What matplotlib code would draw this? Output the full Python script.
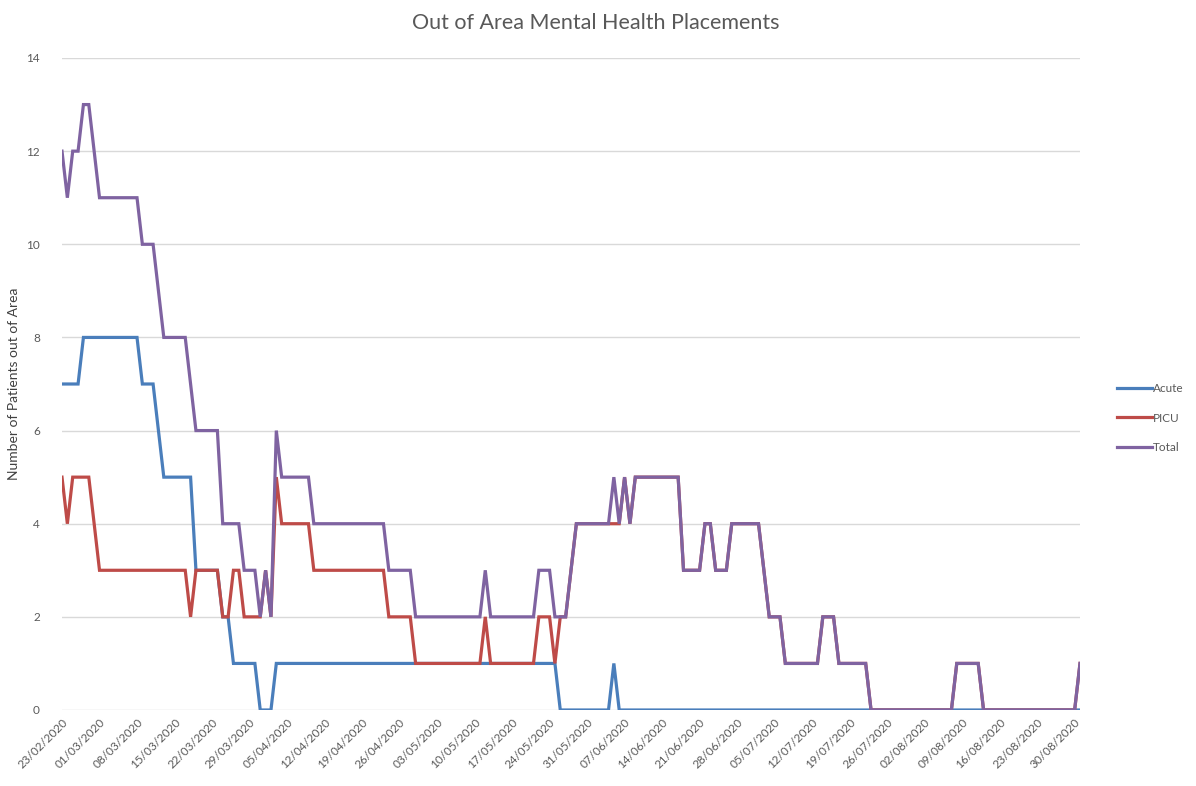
import matplotlib
matplotlib.use("Agg")
import matplotlib.pyplot as plt
import matplotlib.dates as mdates
import pandas as pd

plt.rcParams['font.family'] = ['Lato', 'DejaVu Sans']

start_date = "2020-02-23"
n_days = 191
tick_start = "2020-02-23"
tick_end = "2020-08-30"

acute = [7, 7, 7, 7,
         8, 8, 8, 8, 8, 8, 8, 8, 8, 8, 8,
         7, 7, 7,
         6,
         5, 5, 5, 5, 5, 5,
         3, 3, 3, 3, 3,
         2, 2,
         1, 1, 1, 1, 1,
         0, 0, 0,
         1, 1, 1, 1, 1, 1, 1, 1, 1, 1, 1, 1, 1, 1, 1, 1, 1, 1, 1, 1, 1, 1, 1, 1, 1, 1,
         1, 1, 1, 1, 1, 1, 1, 1, 1, 1, 1, 1, 1, 1, 1, 1, 1, 1, 1, 1, 1, 1, 1, 1, 1, 1, 1,
         0, 0, 0, 0, 0, 0, 0, 0, 0, 0,
         1,
         0, 0, 0, 0, 0, 0, 0, 0, 0, 0, 0, 0, 0, 0, 0, 0, 0, 0, 0, 0, 0, 0, 0, 0, 0, 0, 0, 0, 0, 0,
         0, 0, 0, 0, 0, 0, 0, 0, 0, 0, 0, 0, 0, 0, 0, 0, 0, 0, 0, 0, 0, 0, 0, 0, 0, 0, 0, 0, 0, 0,
         0, 0, 0, 0, 0, 0, 0, 0, 0, 0, 0, 0, 0, 0, 0, 0, 0, 0, 0, 0, 0, 0, 0, 0, 0, 0, 0]

picu = [5, 4, 5, 5, 5, 5, 4,
        3, 3, 3, 3, 3, 3, 3, 3, 3, 3, 3, 3, 3, 3, 3, 3, 3,
        2,
        3, 3, 3, 3, 3,
        2, 2, 3, 3, 2, 2, 2, 2, 3, 2,
        5,
        4, 4, 4, 4, 4, 4,
        3, 3, 3, 3, 3, 3, 3, 3, 3, 3, 3, 3, 3, 3,
        2, 2, 2, 2, 2,
        1, 1, 1, 1, 1, 1, 1, 1, 1, 1, 1, 1, 1,
        2,
        1, 1, 1, 1, 1, 1, 1, 1, 1,
        2, 2, 2, 1, 2, 2, 3,
        4, 4, 4, 4, 4, 4, 4, 4,
        4, 5, 4,
        5, 5, 5, 5, 5, 5, 5, 5, 5,
        3, 3, 3, 3,
        4, 4,
        3, 3, 3,
        4, 4, 4, 4, 4, 4,
        3,
        2, 2, 2,
        1, 1, 1, 1, 1, 1, 1,
        2, 2, 2,
        1, 1, 1, 1, 1, 1,
        0, 0, 0, 0, 0, 0, 0, 0, 0, 0, 0, 0, 0, 0, 0, 0,
        1, 1, 1, 1, 1,
        0, 0, 0, 0, 0, 0, 0, 0, 0, 0, 0, 0, 0, 0, 0, 0, 0, 0,
        1]

total = [12, 11, 12, 12, 13, 13, 12,
         11, 11, 11, 11, 11, 11, 11, 11,
         10, 10, 10,
         9,
         8, 8, 8, 8, 8,
         7,
         6, 6, 6, 6, 6,
         4, 4, 4, 4,
         3, 3, 3, 2, 3, 2,
         6,
         5, 5, 5, 5, 5, 5,
         4, 4, 4, 4, 4, 4, 4, 4, 4, 4, 4, 4, 4, 4,
         3, 3, 3, 3, 3,
         2, 2, 2, 2, 2, 2, 2, 2, 2, 2, 2, 2, 2,
         3,
         2, 2, 2, 2, 2, 2, 2, 2, 2,
         3, 3, 3, 2, 2, 2, 3,
         4, 4, 4, 4, 4, 4, 4,
         5, 4, 5, 4,
         5, 5, 5, 5, 5, 5, 5, 5, 5,
         3, 3, 3, 3,
         4, 4,
         3, 3, 3,
         4, 4, 4, 4, 4, 4,
         3,
         2, 2, 2,
         1, 1, 1, 1, 1, 1, 1,
         2, 2, 2,
         1, 1, 1, 1, 1, 1,
         0, 0, 0, 0, 0, 0, 0, 0, 0, 0, 0, 0, 0, 0, 0, 0,
         1, 1, 1, 1, 1,
         0, 0, 0, 0, 0, 0, 0, 0, 0, 0, 0, 0, 0, 0, 0, 0, 0, 0,
         1]

series_names = ["Acute", "PICU", "Total"]
series_colors = ["#4A7EBB", "#BE4B48", "#7F63A1"]

dates = pd.date_range(start_date, periods=n_days, freq="D")
ticks = pd.date_range(tick_start, tick_end, freq="7D")

fig = plt.figure(figsize=(11.96, 7.86), dpi=100)
ax = fig.add_axes([62 / 1196, 1 - 710 / 786, (1080 - 62) / 1196, (710 - 58) / 786])

for vals, name, col in zip([acute, picu, total], series_names, series_colors):
    ax.plot(dates, vals, color=col, lw=2.3, label=name, solid_joinstyle="miter")

ax.set_xlim(dates[0], dates[-1])
ax.set_ylim(0, 14)
ax.set_yticks(range(0, 15, 2))
ax.yaxis.grid(True, color="#D9D9D9", lw=1)
ax.set_axisbelow(True)
for s in ax.spines.values():
    s.set_visible(False)

ax.set_xticks(ticks)
ax.xaxis.set_major_formatter(mdates.DateFormatter("%d/%m/%Y"))
plt.setp(ax.get_xticklabels(), rotation=45, ha="right", rotation_mode="anchor",
         fontsize=8.5, color="#595959")
ax.tick_params(axis="x", length=0, pad=5)
ax.tick_params(axis="y", length=0, pad=16, labelsize=8.5, labelcolor="#595959")

ax.set_ylabel("Number of Patients out of Area", fontsize=10, color="#404040", labelpad=4)
fig.text(596 / 1196, 1 - 23 / 786, "Out of Area Mental Health Placements",
         ha="center", va="center", fontsize=15.5, color="#595959")

leg = fig.legend(loc="center left", bbox_to_anchor=(1106 / 1196, 1 - 418 / 786),
                 frameon=False, fontsize=8.5, handlelength=3.0, labelspacing=1.55,
                 handletextpad=0.1)
for t in leg.get_texts():
    t.set_color("#595959")

fig.savefig("out.png", dpi=100)
